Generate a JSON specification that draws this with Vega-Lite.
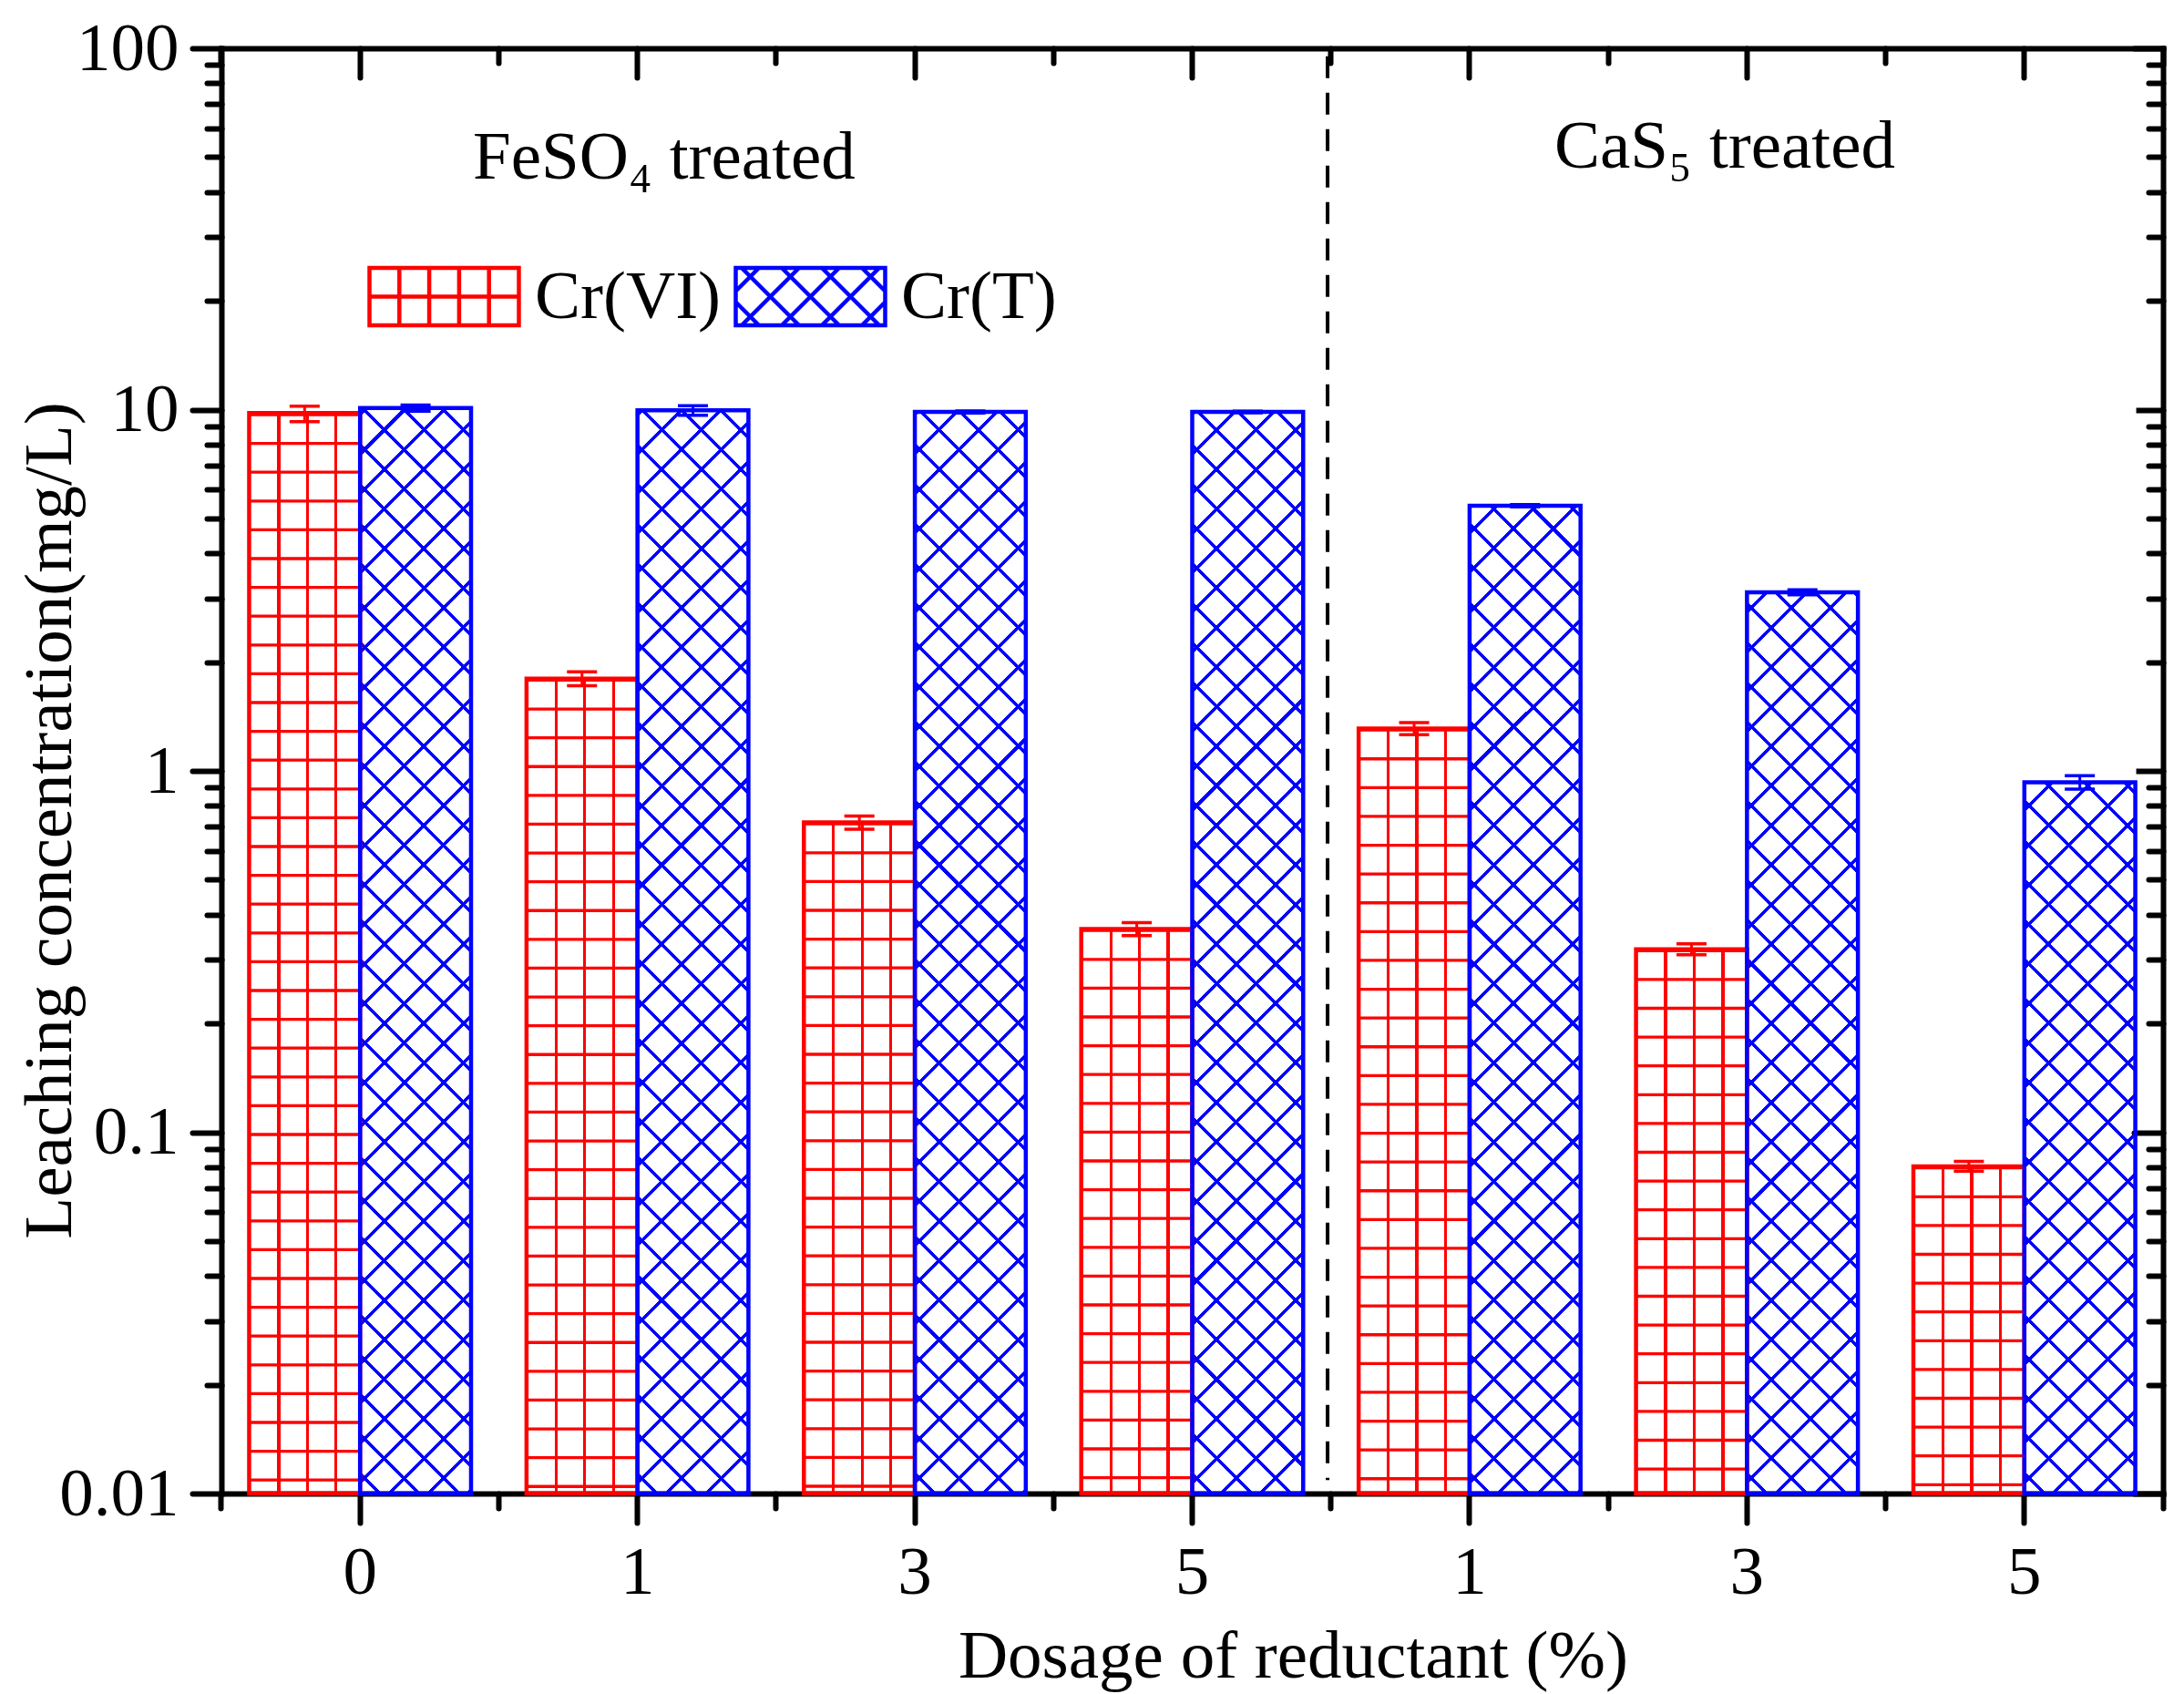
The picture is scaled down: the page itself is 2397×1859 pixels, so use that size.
{
"$schema": "https://vega.github.io/schema/vega-lite/v6.json",
"width": 2131, "height": 1586,
"autosize": {"type": "none"},
"padding": {"left": 243, "top": 53, "right": 23, "bottom": 220},
"background": "white",
"datasets": {"bars": [
 {"g": "FeSO4 0", "s": "Cr(VI)", "v": 9.78, "lo": 9.26, "hi": 10.22},
 {"g": "FeSO4 1", "s": "Cr(VI)", "v": 1.80, "lo": 1.72, "hi": 1.88},
 {"g": "FeSO4 3", "s": "Cr(VI)", "v": 0.72, "lo": 0.69, "hi": 0.75},
 {"g": "FeSO4 5", "s": "Cr(VI)", "v": 0.365, "lo": 0.35, "hi": 0.38},
 {"g": "CaS5 1", "s": "Cr(VI)", "v": 1.31, "lo": 1.26, "hi": 1.36},
 {"g": "CaS5 3", "s": "Cr(VI)", "v": 0.321, "lo": 0.31, "hi": 0.332},
 {"g": "CaS5 5", "s": "Cr(VI)", "v": 0.0804, "lo": 0.078, "hi": 0.083},
 {"g": "FeSO4 0", "s": "Cr(T)", "v": 10.1, "lo": 9.9, "hi": 10.3},
 {"g": "FeSO4 1", "s": "Cr(T)", "v": 9.95, "lo": 9.65, "hi": 10.25},
 {"g": "FeSO4 3", "s": "Cr(T)", "v": 9.85, "lo": 9.78, "hi": 9.92},
 {"g": "FeSO4 5", "s": "Cr(T)", "v": 9.85, "lo": 9.8, "hi": 9.9},
 {"g": "CaS5 1", "s": "Cr(T)", "v": 5.42, "lo": 5.38, "hi": 5.46},
 {"g": "CaS5 3", "s": "Cr(T)", "v": 3.12, "lo": 3.07, "hi": 3.17},
 {"g": "CaS5 5", "s": "Cr(T)", "v": 0.93, "lo": 0.89, "hi": 0.97}
]},
"data": {"name": "bars"},
"layer": [
 {
  "transform": [{"filter": "datum.s === 'Cr(VI)'"}],
  "mark": {"type": "bar", "stroke": null, "fill": {"gradient": "linear", "x1": 0, "y1": 0, "x2": 1, "y2": 0, "stops": [
    {"offset": 0, "color": "transparent"},
    {"offset": 0.2535, "color": "transparent"}, {"offset": 0.2535, "color": "#ff0000"}, {"offset": 0.2805, "color": "#ff0000"}, {"offset": 0.2805, "color": "transparent"},
    {"offset": 0.5115, "color": "transparent"}, {"offset": 0.5115, "color": "#ff0000"}, {"offset": 0.5385, "color": "#ff0000"}, {"offset": 0.5385, "color": "transparent"},
    {"offset": 0.7695, "color": "transparent"}, {"offset": 0.7695, "color": "#ff0000"}, {"offset": 0.7965, "color": "#ff0000"}, {"offset": 0.7965, "color": "transparent"},
    {"offset": 1, "color": "transparent"}]}},
  "encoding": {
   "x": {"field": "g", "type": "nominal",
         "scale": {"domain": ["FeSO4 0", "FeSO4 1", "FeSO4 3", "FeSO4 5", "CaS5 1", "CaS5 3", "CaS5 5"], "paddingInner": 0.2, "paddingOuter": 0.1},
         "axis": {"orient": "bottom", "labelExpr": "slice(datum.label, -1)", "labelAngle": 0, "labelBaseline": "alphabetic", "labelPadding": 77, "tickSize": 32,
                  "title": "Dosage of reductant (%)", "titleX": 1176, "titleY": 201, "titleBaseline": "alphabetic", "titleAlign": "center", "titleAngle": 0}},
   "xOffset": {"field": "s", "type": "nominal", "scale": {"domain": ["Cr(VI)", "Cr(T)"], "paddingInner": 0, "paddingOuter": 0}},
   "y": {"field": "v", "type": "quantitative", "scale": {"type": "log", "domain": [0.01, 100], "nice": false},
         "axis": {"orient": "left", "values": [0.01, 0.1, 1, 10, 100], "format": "~g", "tickSize": 32, "labelPadding": 15,
                  "title": "Leaching concentration(mg/L)", "titleX": -166, "titleY": 847, "titleAngle": 270, "titleBaseline": "alphabetic", "titleAlign": "center"}},
   "y2": {"datum": 0.01}
  }
 },
 {
  "transform": [{"filter": "datum.s === 'Cr(VI)'"}],
  "mark": {"type": "rule", "color": "#ff0000", "strokeWidth": 121, "strokeDash": [3.3, 28.3]},
  "encoding": {
   "x": {"field": "g", "type": "nominal", "axis": {"orient": "bottom", "bandPosition": -0.125, "domain": false, "labels": false, "tickSize": 16, "title": null}},
   "xOffset": {"field": "s", "type": "nominal"},
   "y": {"field": "v", "type": "quantitative", "axis": {"orient": "left", "values": [0.02,0.03,0.04,0.05,0.06,0.07,0.08,0.09,0.2,0.3,0.4,0.5,0.6,0.7,0.8,0.9,2,3,4,5,6,7,8,9,20,30,40,50,60,70,80,90], "domain": false, "labels": false, "tickSize": 16, "title": null}},
   "y2": {"datum": 0.01}
  }
 },
 {
  "transform": [{"filter": "datum.s === 'Cr(T)'"}],
  "mark": {"type": "bar", "stroke": null, "fill": {"gradient": "linear", "x1": 0, "y1": 0, "x2": 0.11005, "y2": 1.08985, "stops": [
{"offset":0,"color":"transparent"},
{"offset":0.0145,"color":"transparent"},{"offset":0.0145,"color":"#0000ff"},{"offset":0.0183,"color":"#0000ff"},{"offset":0.0183,"color":"transparent"},
{"offset":0.0472,"color":"transparent"},{"offset":0.0472,"color":"#0000ff"},{"offset":0.0510,"color":"#0000ff"},{"offset":0.0510,"color":"transparent"},
{"offset":0.0799,"color":"transparent"},{"offset":0.0799,"color":"#0000ff"},{"offset":0.0837,"color":"#0000ff"},{"offset":0.0837,"color":"transparent"},
{"offset":0.1126,"color":"transparent"},{"offset":0.1126,"color":"#0000ff"},{"offset":0.1164,"color":"#0000ff"},{"offset":0.1164,"color":"transparent"},
{"offset":0.1453,"color":"transparent"},{"offset":0.1453,"color":"#0000ff"},{"offset":0.1491,"color":"#0000ff"},{"offset":0.1491,"color":"transparent"},
{"offset":0.1780,"color":"transparent"},{"offset":0.1780,"color":"#0000ff"},{"offset":0.1818,"color":"#0000ff"},{"offset":0.1818,"color":"transparent"},
{"offset":0.2107,"color":"transparent"},{"offset":0.2107,"color":"#0000ff"},{"offset":0.2145,"color":"#0000ff"},{"offset":0.2145,"color":"transparent"},
{"offset":0.2434,"color":"transparent"},{"offset":0.2434,"color":"#0000ff"},{"offset":0.2472,"color":"#0000ff"},{"offset":0.2472,"color":"transparent"},
{"offset":0.2761,"color":"transparent"},{"offset":0.2761,"color":"#0000ff"},{"offset":0.2799,"color":"#0000ff"},{"offset":0.2799,"color":"transparent"},
{"offset":0.3088,"color":"transparent"},{"offset":0.3088,"color":"#0000ff"},{"offset":0.3126,"color":"#0000ff"},{"offset":0.3126,"color":"transparent"},
{"offset":0.3415,"color":"transparent"},{"offset":0.3415,"color":"#0000ff"},{"offset":0.3453,"color":"#0000ff"},{"offset":0.3453,"color":"transparent"},
{"offset":0.3742,"color":"transparent"},{"offset":0.3742,"color":"#0000ff"},{"offset":0.3780,"color":"#0000ff"},{"offset":0.3780,"color":"transparent"},
{"offset":0.4069,"color":"transparent"},{"offset":0.4069,"color":"#0000ff"},{"offset":0.4107,"color":"#0000ff"},{"offset":0.4107,"color":"transparent"},
{"offset":0.4396,"color":"transparent"},{"offset":0.4396,"color":"#0000ff"},{"offset":0.4434,"color":"#0000ff"},{"offset":0.4434,"color":"transparent"},
{"offset":0.4723,"color":"transparent"},{"offset":0.4723,"color":"#0000ff"},{"offset":0.4761,"color":"#0000ff"},{"offset":0.4761,"color":"transparent"},
{"offset":0.5050,"color":"transparent"},{"offset":0.5050,"color":"#0000ff"},{"offset":0.5088,"color":"#0000ff"},{"offset":0.5088,"color":"transparent"},
{"offset":0.5377,"color":"transparent"},{"offset":0.5377,"color":"#0000ff"},{"offset":0.5415,"color":"#0000ff"},{"offset":0.5415,"color":"transparent"},
{"offset":0.5704,"color":"transparent"},{"offset":0.5704,"color":"#0000ff"},{"offset":0.5742,"color":"#0000ff"},{"offset":0.5742,"color":"transparent"},
{"offset":0.6031,"color":"transparent"},{"offset":0.6031,"color":"#0000ff"},{"offset":0.6069,"color":"#0000ff"},{"offset":0.6069,"color":"transparent"},
{"offset":0.6358,"color":"transparent"},{"offset":0.6358,"color":"#0000ff"},{"offset":0.6396,"color":"#0000ff"},{"offset":0.6396,"color":"transparent"},
{"offset":0.6685,"color":"transparent"},{"offset":0.6685,"color":"#0000ff"},{"offset":0.6723,"color":"#0000ff"},{"offset":0.6723,"color":"transparent"},
{"offset":0.7012,"color":"transparent"},{"offset":0.7012,"color":"#0000ff"},{"offset":0.7050,"color":"#0000ff"},{"offset":0.7050,"color":"transparent"},
{"offset":0.7339,"color":"transparent"},{"offset":0.7339,"color":"#0000ff"},{"offset":0.7377,"color":"#0000ff"},{"offset":0.7377,"color":"transparent"},
{"offset":0.7666,"color":"transparent"},{"offset":0.7666,"color":"#0000ff"},{"offset":0.7704,"color":"#0000ff"},{"offset":0.7704,"color":"transparent"},
{"offset":0.7993,"color":"transparent"},{"offset":0.7993,"color":"#0000ff"},{"offset":0.8031,"color":"#0000ff"},{"offset":0.8031,"color":"transparent"},
{"offset":0.8320,"color":"transparent"},{"offset":0.8320,"color":"#0000ff"},{"offset":0.8358,"color":"#0000ff"},{"offset":0.8358,"color":"transparent"},
{"offset":0.8647,"color":"transparent"},{"offset":0.8647,"color":"#0000ff"},{"offset":0.8685,"color":"#0000ff"},{"offset":0.8685,"color":"transparent"},
{"offset":0.8974,"color":"transparent"},{"offset":0.8974,"color":"#0000ff"},{"offset":0.9012,"color":"#0000ff"},{"offset":0.9012,"color":"transparent"},
{"offset":0.9301,"color":"transparent"},{"offset":0.9301,"color":"#0000ff"},{"offset":0.9339,"color":"#0000ff"},{"offset":0.9339,"color":"transparent"},
{"offset":0.9628,"color":"transparent"},{"offset":0.9628,"color":"#0000ff"},{"offset":0.9666,"color":"#0000ff"},{"offset":0.9666,"color":"transparent"},
{"offset":0.9955,"color":"transparent"},{"offset":0.9955,"color":"#0000ff"},{"offset":0.9993,"color":"#0000ff"},{"offset":0.9993,"color":"transparent"},
{"offset":1,"color":"transparent"}]}},
  "encoding": {
   "x": {"field": "g", "type": "nominal", "axis": {"orient": "top", "domain": true, "labels": false, "tickSize": -32, "title": null}},
   "xOffset": {"field": "s", "type": "nominal"},
   "y": {"datum": 11, "type": "quantitative", "axis": {"orient": "right", "values": [0.01, 0.1, 1, 10, 100], "domain": true, "labels": false, "tickSize": -32, "title": null}},
   "y2": {"datum": 0.01}
  }
 },
 {
  "transform": [{"filter": "datum.s === 'Cr(T)'"}],
  "mark": {"type": "bar", "stroke": null, "fill": {"gradient": "linear", "x1": 0, "y1": 1, "x2": 0.11005, "y2": -0.08985, "stops": [
{"offset":0,"color":"transparent"},
{"offset":0.0145,"color":"transparent"},{"offset":0.0145,"color":"#0000ff"},{"offset":0.0183,"color":"#0000ff"},{"offset":0.0183,"color":"transparent"},
{"offset":0.0472,"color":"transparent"},{"offset":0.0472,"color":"#0000ff"},{"offset":0.0510,"color":"#0000ff"},{"offset":0.0510,"color":"transparent"},
{"offset":0.0799,"color":"transparent"},{"offset":0.0799,"color":"#0000ff"},{"offset":0.0837,"color":"#0000ff"},{"offset":0.0837,"color":"transparent"},
{"offset":0.1126,"color":"transparent"},{"offset":0.1126,"color":"#0000ff"},{"offset":0.1164,"color":"#0000ff"},{"offset":0.1164,"color":"transparent"},
{"offset":0.1453,"color":"transparent"},{"offset":0.1453,"color":"#0000ff"},{"offset":0.1491,"color":"#0000ff"},{"offset":0.1491,"color":"transparent"},
{"offset":0.1780,"color":"transparent"},{"offset":0.1780,"color":"#0000ff"},{"offset":0.1818,"color":"#0000ff"},{"offset":0.1818,"color":"transparent"},
{"offset":0.2107,"color":"transparent"},{"offset":0.2107,"color":"#0000ff"},{"offset":0.2145,"color":"#0000ff"},{"offset":0.2145,"color":"transparent"},
{"offset":0.2434,"color":"transparent"},{"offset":0.2434,"color":"#0000ff"},{"offset":0.2472,"color":"#0000ff"},{"offset":0.2472,"color":"transparent"},
{"offset":0.2761,"color":"transparent"},{"offset":0.2761,"color":"#0000ff"},{"offset":0.2799,"color":"#0000ff"},{"offset":0.2799,"color":"transparent"},
{"offset":0.3088,"color":"transparent"},{"offset":0.3088,"color":"#0000ff"},{"offset":0.3126,"color":"#0000ff"},{"offset":0.3126,"color":"transparent"},
{"offset":0.3415,"color":"transparent"},{"offset":0.3415,"color":"#0000ff"},{"offset":0.3453,"color":"#0000ff"},{"offset":0.3453,"color":"transparent"},
{"offset":0.3742,"color":"transparent"},{"offset":0.3742,"color":"#0000ff"},{"offset":0.3780,"color":"#0000ff"},{"offset":0.3780,"color":"transparent"},
{"offset":0.4069,"color":"transparent"},{"offset":0.4069,"color":"#0000ff"},{"offset":0.4107,"color":"#0000ff"},{"offset":0.4107,"color":"transparent"},
{"offset":0.4396,"color":"transparent"},{"offset":0.4396,"color":"#0000ff"},{"offset":0.4434,"color":"#0000ff"},{"offset":0.4434,"color":"transparent"},
{"offset":0.4723,"color":"transparent"},{"offset":0.4723,"color":"#0000ff"},{"offset":0.4761,"color":"#0000ff"},{"offset":0.4761,"color":"transparent"},
{"offset":0.5050,"color":"transparent"},{"offset":0.5050,"color":"#0000ff"},{"offset":0.5088,"color":"#0000ff"},{"offset":0.5088,"color":"transparent"},
{"offset":0.5377,"color":"transparent"},{"offset":0.5377,"color":"#0000ff"},{"offset":0.5415,"color":"#0000ff"},{"offset":0.5415,"color":"transparent"},
{"offset":0.5704,"color":"transparent"},{"offset":0.5704,"color":"#0000ff"},{"offset":0.5742,"color":"#0000ff"},{"offset":0.5742,"color":"transparent"},
{"offset":0.6031,"color":"transparent"},{"offset":0.6031,"color":"#0000ff"},{"offset":0.6069,"color":"#0000ff"},{"offset":0.6069,"color":"transparent"},
{"offset":0.6358,"color":"transparent"},{"offset":0.6358,"color":"#0000ff"},{"offset":0.6396,"color":"#0000ff"},{"offset":0.6396,"color":"transparent"},
{"offset":0.6685,"color":"transparent"},{"offset":0.6685,"color":"#0000ff"},{"offset":0.6723,"color":"#0000ff"},{"offset":0.6723,"color":"transparent"},
{"offset":0.7012,"color":"transparent"},{"offset":0.7012,"color":"#0000ff"},{"offset":0.7050,"color":"#0000ff"},{"offset":0.7050,"color":"transparent"},
{"offset":0.7339,"color":"transparent"},{"offset":0.7339,"color":"#0000ff"},{"offset":0.7377,"color":"#0000ff"},{"offset":0.7377,"color":"transparent"},
{"offset":0.7666,"color":"transparent"},{"offset":0.7666,"color":"#0000ff"},{"offset":0.7704,"color":"#0000ff"},{"offset":0.7704,"color":"transparent"},
{"offset":0.7993,"color":"transparent"},{"offset":0.7993,"color":"#0000ff"},{"offset":0.8031,"color":"#0000ff"},{"offset":0.8031,"color":"transparent"},
{"offset":0.8320,"color":"transparent"},{"offset":0.8320,"color":"#0000ff"},{"offset":0.8358,"color":"#0000ff"},{"offset":0.8358,"color":"transparent"},
{"offset":0.8647,"color":"transparent"},{"offset":0.8647,"color":"#0000ff"},{"offset":0.8685,"color":"#0000ff"},{"offset":0.8685,"color":"transparent"},
{"offset":0.8974,"color":"transparent"},{"offset":0.8974,"color":"#0000ff"},{"offset":0.9012,"color":"#0000ff"},{"offset":0.9012,"color":"transparent"},
{"offset":0.9301,"color":"transparent"},{"offset":0.9301,"color":"#0000ff"},{"offset":0.9339,"color":"#0000ff"},{"offset":0.9339,"color":"transparent"},
{"offset":0.9628,"color":"transparent"},{"offset":0.9628,"color":"#0000ff"},{"offset":0.9666,"color":"#0000ff"},{"offset":0.9666,"color":"transparent"},
{"offset":0.9955,"color":"transparent"},{"offset":0.9955,"color":"#0000ff"},{"offset":0.9993,"color":"#0000ff"},{"offset":0.9993,"color":"transparent"},
{"offset":1,"color":"transparent"}]}},
  "encoding": {
   "x": {"field": "g", "type": "nominal", "axis": {"orient": "top", "bandPosition": -0.125, "domain": false, "labels": false, "tickSize": -16, "title": null}},
   "xOffset": {"field": "s", "type": "nominal"},
   "y": {"datum": 11, "type": "quantitative", "axis": {"orient": "right", "values": [0.02,0.03,0.04,0.05,0.06,0.07,0.08,0.09,0.2,0.3,0.4,0.5,0.6,0.7,0.8,0.9,2,3,4,5,6,7,8,9,20,30,40,50,60,70,80,90], "domain": false, "labels": false, "tickSize": -16, "title": null}},
   "y2": {"datum": 0.01}
  }
 },
 {
  "transform": [{"filter": "datum.s === 'Cr(T)'"}],
  "mark": {"type": "bar", "fill": "#ffffff", "stroke": "#ffffff", "strokeWidth": 2},
  "encoding": {
   "x": {"field": "g", "type": "nominal", "axis": {"orient": "bottom", "values": ["CaS5 5"], "bandPosition": 1.125, "domain": false, "labels": false, "tickSize": 16, "title": null}},
   "xOffset": {"field": "s", "type": "nominal"},
   "y": {"field": "v", "type": "quantitative", "axis": null},
   "y2": {"datum": 11}
  }
 },
 {
  "mark": {"type": "bar", "filled": false, "strokeWidth": 4.5},
  "encoding": {
   "x": {"field": "g", "type": "nominal", "axis": {"orient": "top", "values": ["CaS5 5"], "bandPosition": 1.125, "domain": false, "labels": false, "tickSize": -16, "title": null}},
   "xOffset": {"field": "s", "type": "nominal"},
   "y": {"field": "v", "type": "quantitative", "axis": null},
   "y2": {"datum": 0.01},
   "color": {"field": "s", "type": "nominal", "scale": {"domain": ["Cr(VI)", "Cr(T)"], "range": ["#ff0000", "#0000ff"]},
     "legend": {"title": null, "orient": "none", "legendX": 207, "legendY": 235, "direction": "horizontal", "symbolSize": 3600, "symbolStrokeWidth": 4.5, "symbolOpacity": 1, "symbolFillColor": "transparent",
       "symbolType": {"expr": "datum.value === 'Cr(VI)' ? 'M-2.733,-1.05H2.733V1.05H-2.733ZM-1.64,-1.05V1.05M-0.547,-1.05V1.05M0.547,-1.05V1.05M1.64,-1.05V1.05M-2.733,0H2.733' : 'M-2.733,-1.05H2.733V1.05H-2.733ZM-2.733,0.201L-1.884,1.05M-2.517,-1.05L-0.417,1.05M-1.05,-1.05L1.05,1.05M0.417,-1.05L2.517,1.05M1.884,-1.05L2.733,-0.201M-2.733,-0.201L-1.884,-1.05M-2.517,1.05L-0.417,-1.05M-1.05,1.05L1.05,-1.05M0.417,1.05L2.517,-1.05M1.884,1.05L2.733,0.201'"},
       "labelFont": "Liberation Serif", "labelFontSize": 75, "labelColor": "#000000", "labelOffset": 62, "labelLimit": 0, "columnPadding": 6, "padding": 0}}
  }
 },
 {
  "mark": {"type": "rule", "strokeWidth": 3},
  "encoding": {
   "x": {"field": "g", "type": "nominal", "axis": null},
   "xOffset": {"field": "s", "type": "nominal"},
   "y": {"field": "lo", "type": "quantitative", "axis": null},
   "y2": {"field": "hi"},
   "stroke": {"field": "s", "type": "nominal", "scale": {"domain": ["Cr(VI)", "Cr(T)"], "range": ["#ff0000", "#0000ff"]}, "legend": null}
  }
 },
 {
  "mark": {"type": "point", "shape": "stroke", "size": 1089, "strokeWidth": 3.5, "opacity": 1},
  "encoding": {
   "x": {"field": "g", "type": "nominal", "axis": null},
   "xOffset": {"field": "s", "type": "nominal"},
   "y": {"field": "hi", "type": "quantitative", "axis": null},
   "stroke": {"field": "s", "type": "nominal", "legend": null}
  }
 },
 {
  "mark": {"type": "point", "shape": "stroke", "size": 1089, "strokeWidth": 3.5, "opacity": 1},
  "encoding": {
   "x": {"field": "g", "type": "nominal", "axis": null},
   "xOffset": {"field": "s", "type": "nominal"},
   "y": {"field": "lo", "type": "quantitative", "axis": null},
   "stroke": {"field": "s", "type": "nominal", "legend": null}
  }
 },
 {
  "data": {"values": [{"k": "divider"}]},
  "mark": {"type": "rule", "color": "#000000", "strokeWidth": 4, "strokeDash": [24, 16]},
  "encoding": {
   "x": {"datum": "FeSO4 5", "bandPosition": 1.11, "axis": null},
   "y": {"datum": 95, "type": "quantitative", "axis": null},
   "y2": {"datum": 0.0109}
  }
 },
 {
  "data": {"values": [{"label": "FeSO₄ treated"}]},
  "mark": {"type": "text", "font": "Liberation Serif", "fontSize": 75, "align": "center", "baseline": "alphabetic", "color": "#000000"},
  "encoding": {
   "x": {"datum": "FeSO4 1", "bandPosition": 0.62, "axis": null},
   "y": {"datum": 43.5, "type": "quantitative", "axis": null},
   "text": {"field": "label"}
  }
 },
 {
  "data": {"values": [{"label": "CaS₅ treated"}]},
  "mark": {"type": "text", "font": "Liberation Serif", "fontSize": 75, "align": "center", "baseline": "alphabetic", "color": "#000000"},
  "encoding": {
   "x": {"datum": "CaS5 3", "bandPosition": 0.4, "axis": null},
   "y": {"datum": 46.7, "type": "quantitative", "axis": null},
   "text": {"field": "label"}
  }
 }
],
"resolve": {"axis": {"x": "independent", "y": "independent"}},
"config": {
 "font": "Liberation Serif",
 "view": {"stroke": null},
 "axis": {"grid": false, "domainColor": "#000000", "domainWidth": 6, "domainCap": "square", "tickColor": "#000000", "tickWidth": 6, "tickCap": "round",
          "labelFont": "Liberation Serif", "labelFontSize": 75, "labelColor": "#000000", "titleFont": "Liberation Serif", "titleFontSize": 75, "titleFontWeight": "normal", "titleColor": "#000000", "zindex": 1, "labelOverlap": false}
}
}
